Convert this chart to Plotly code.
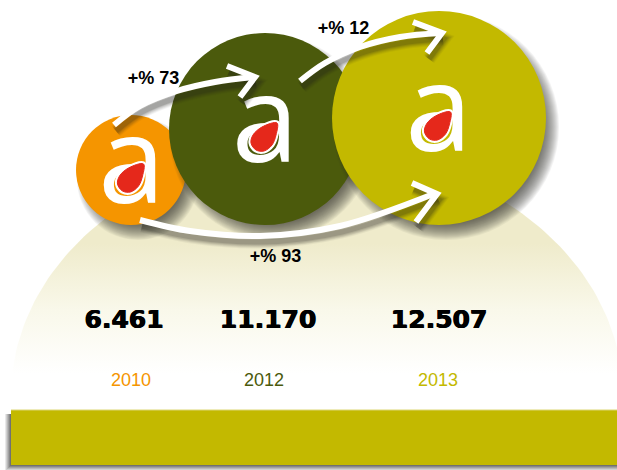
import numpy as np
import plotly.graph_objects as go

# ---- data
years = ["2010", "2012", "2013"]
values = ["6.461", "11.170", "12.507"]
growth_labels = ["+% 73", "+% 12", "+% 93"]
colors = ["#f59500", "#4b5a0c", "#c3b900"]

# ---- layout constants
W, H = 617, 470
circle_x = [131, 265, 439]
circle_y = [170, 129, 118]
circle_r = [55, 96, 107]
logo_x = [131.5, 265, 438.5]
logo_y = [170, 129, 118]
value_x = [124, 268, 439]
value_y = 322
year_x = [131, 264, 438]
year_y = 381
growth_x = [153.5, 343.5, 275.5]
growth_y = [79, 29, 257]

arrow_paths = [
    dict(x=[114, 140, 177, 215, 254], y=[125, 106, 91, 82, 77],
         hx=[227, 255, 240], hy=[66, 77, 97]),
    dict(x=[300, 325, 360, 400, 441], y=[81, 63, 47, 37, 33],
         hx=[413, 442, 427], hy=[22, 33, 53]),
    dict(x=[140, 190, 260, 340, 436], y=[220, 231, 236, 226, 193],
         hx=[412, 437, 416], hy=[183, 194, 222]),
]
drop_dx = [12, -3, -12, -14, -9, -1, 7, 11, 12]
drop_dy = [-30, -26, -18, -10, -3, -2, -8, -18, -30]

fig = go.Figure()

def add_line(x, y, width, color, opacity=1.0, spline=False):
    fig.add_trace(go.Scatter(
        x=x, y=y, mode="lines", opacity=opacity,
        line=dict(color=color, width=width, shape="spline" if spline else "linear"),
        hoverinfo="skip", showlegend=False))

def add_circle_shadow(cx, cy, r):
    for grow in range(6, -11, -1):
        fig.add_trace(go.Scatter(
            x=[cx + 7], y=[cy + 9], mode="markers", opacity=0.055,
            marker=dict(size=2 * r + 2 * grow, color="#30302a", line=dict(width=0)),
            hoverinfo="skip", showlegend=False))

# dome with vertical gradient
t = np.linspace(np.pi, 2 * np.pi, 121)
dome_cx, dome_cy, dome_a, dome_b = 317, 396, 306, 246
fig.add_trace(go.Scatter(
    x=dome_cx + dome_a * np.cos(t), y=dome_cy + dome_b * np.sin(t),
    mode="lines", line=dict(width=0), fill="toself",
    fillgradient=dict(type="vertical",
                      colorscale=[[0, "#ffffff"], [0.09, "#ffffff"], [0.35, "#f9f8ea"],
                                  [0.62, "#efebcb"], [1, "#efebcb"]]),
    hoverinfo="skip", showlegend=False))

# bottom bar shadow and bar
bx = [11, 617, 617, 11, 11]
by = [410, 410, 465, 465, 410]
for d, op in [(6, .10), (5, .12), (4, .14), (3, .16), (2, .2), (1, .24)]:
    fig.add_trace(go.Scatter(
        x=[11 - d, 630, 630, 11 - d, 11 - d], y=[414, 414, 465 + d, 465 + d, 414],
        mode="lines", line=dict(width=0), fill="toself",
        fillcolor=f"rgba(40,40,40,{op})", hoverinfo="skip", showlegend=False))
fig.add_trace(go.Scatter(
    x=bx, y=by, mode="lines", line=dict(width=0), fill="toself",
    fillcolor="#c3b900", hoverinfo="skip", showlegend=False))
add_line([11, 617], [410, 410], 1, "#dcd675")

# circles with logos
for i in range(3):
    add_circle_shadow(circle_x[i], circle_y[i], circle_r[i])
    fig.add_trace(go.Scatter(
        x=[circle_x[i]], y=[circle_y[i]], mode="markers",
        marker=dict(size=2 * circle_r[i], color=colors[i], line=dict(width=0)),
        hoverinfo="skip", showlegend=False))
    fig.add_trace(go.Scatter(
        x=[logo_x[i]], y=[logo_y[i] + 3], mode="text", text=["a"],
        textfont=dict(family="Open Sans", size=120, color="white"),
        hoverinfo="skip", showlegend=False))
    ox, oy = logo_x[i], logo_y[i] + 24
    fig.add_trace(go.Scatter(
        x=[ox + d for d in drop_dx], y=[oy + d for d in drop_dy],
        mode="lines", line=dict(width=5, color="white", shape="spline"),
        fill="toself", fillcolor="white", hoverinfo="skip", showlegend=False))
    fig.add_trace(go.Scatter(
        x=[ox + d for d in drop_dx], y=[oy + d for d in drop_dy],
        mode="lines", line=dict(width=1, color="#e5281b", shape="spline"),
        fill="toself", fillcolor="#e5281b", hoverinfo="skip", showlegend=False))

# arrows
for a in arrow_paths:
    for w, op in [(13, .05), (11, .07), (9, .09), (7, .11), (5, .14)]:
        add_line([v + 2 for v in a["x"]], [v + 6 for v in a["y"]], w, "#20201a", op, True)
        add_line([v + 2 for v in a["hx"]], [v + 6 for v in a["hy"]], w, "#20201a", op)
for a in arrow_paths:
    add_line(a["x"], a["y"], 6, "white", 1.0, True)
    add_line(a["hx"], a["hy"], 6, "white")

# texts
fig.add_trace(go.Scatter(
    x=growth_x, y=growth_y, mode="text", text=growth_labels,
    textfont=dict(family="Liberation Sans", size=18, color="black", weight="bold"),
    hoverinfo="skip", showlegend=False))
fig.add_trace(go.Scatter(
    x=value_x, y=[value_y] * 3, mode="text", text=values,
    textfont=dict(family="DejaVu Sans", size=25, color="black", weight="bold",
                  shadow="0.6px 0 0 #000, -0.4px 0 0 #000"),
    hoverinfo="skip", showlegend=False))
for i in range(3):
    fig.add_trace(go.Scatter(
        x=[year_x[i]], y=[year_y], mode="text", text=[years[i]],
        textfont=dict(family="Liberation Sans", size=18, color=colors[i]),
        hoverinfo="skip", showlegend=False))

fig.update_layout(
    width=W, height=H, margin=dict(l=0, r=0, t=0, b=0),
    paper_bgcolor="white", plot_bgcolor="white", showlegend=False,
    xaxis=dict(range=[0, W], visible=False, fixedrange=True),
    yaxis=dict(range=[H, 0], visible=False, fixedrange=True),
)
fig.write_html("out.html", config=dict(displayModeBar=False),
               post_script="document.body.style.margin='0';")
